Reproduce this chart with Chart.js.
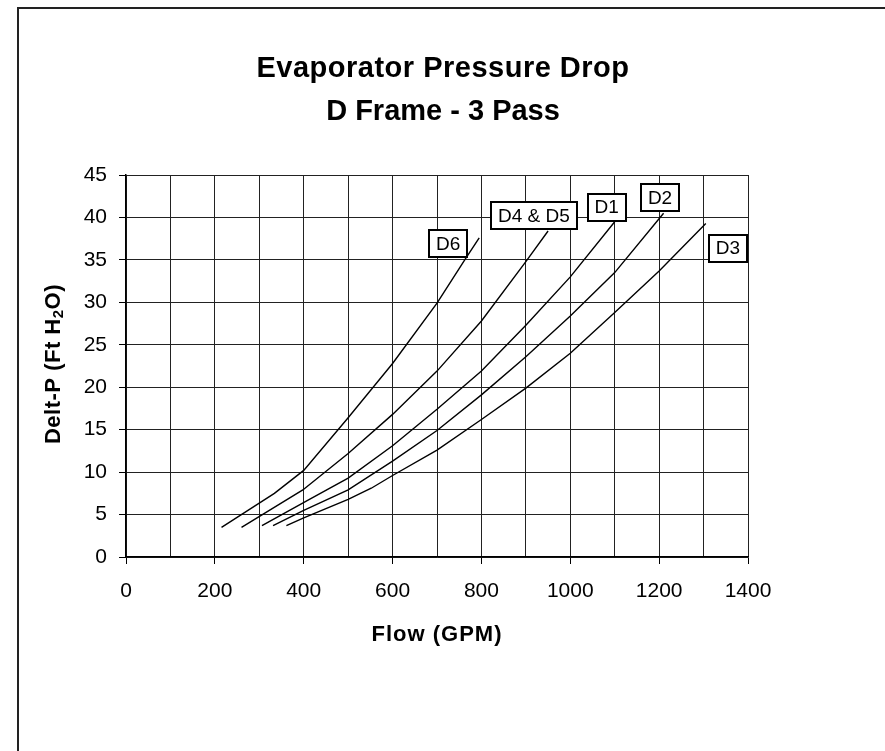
<!DOCTYPE html>
<html>
<head>
<meta charset="utf-8">
<script src="https://cdn.jsdelivr.net/npm/chart.js@4.4.1/dist/chart.umd.min.js"></script>
<style>
    html, body { margin: 0; padding: 0; background: #fff; overflow: hidden; }
    #wrap { position: relative; width: 885px; height: 751px; }
    #frame {
        position: absolute; left: 17px; top: 7px; width: 1000px; height: 1000px;
        border-left: 2px solid #222; border-top: 2px solid #222;
    }
</style>
</head>
<body>
<div id="wrap">
    <div id="frame"></div>
    <canvas id="dpChart"></canvas>
</div>
<script>
// =====================================
// Data
// =====================================

const flowD6 = [215, 334, 400, 500, 600, 700, 765, 795];
const dpD6 = [3.5, 7.5, 10.2, 16.4, 22.8, 29.9, 35.2, 37.6];

const flowD45 = [260, 398, 500, 600, 700, 800, 900, 950];
const dpD45 = [3.5, 7.9, 12.2, 16.8, 21.9, 27.8, 34.8, 38.4];

const flowD1 = [306, 420, 500, 600, 700, 800, 900, 1000, 1100];
const dpD1 = [3.7, 7.0, 9.3, 13.1, 17.4, 21.9, 27.3, 33, 39.5];

const flowD2 = [331, 400, 500, 600, 700, 800, 900, 1000, 1100, 1210];
const dpD2 = [3.7, 5.5, 7.9, 11.3, 14.9, 19.1, 23.6, 28.4, 33.5, 40.5];

const flowD3 = [361, 400, 500, 552, 600, 700, 800, 900, 1000, 1100, 1200, 1305];
const dpD3 = [3.7, 4.6, 6.8, 8.1, 9.6, 12.6, 16.2, 19.9, 24, 28.8, 33.7, 39.3];

// curve tags (box centres in data units)
const tagNames = ["D6", "D4 & D5", "D1", "D2", "D3"];
const tagFlow = [725, 918, 1082, 1202, 1355];
const tagDp = [36.9, 40.2, 41.2, 42.3, 36.4];

const xTickValues = [0, 200, 400, 600, 800, 1000, 1200, 1400];

function toPoints(xs, ys) {
    return xs.map((x, i) => ({ x: x, y: ys[i] }));
}

function curve(label, xs, ys) {
    return {
        label: label,
        data: toPoints(xs, ys),
        borderColor: "#000",
        borderWidth: 1.4,
        pointRadius: 0,
        fill: false,
        tension: 0
    };
}

const FONT = "'Liberation Sans', Arial, sans-serif";

// =====================================
// Titles and tag boxes
// =====================================

const decorations = {
    id: "decorations",
    afterDraw(chart) {
        const ctx = chart.ctx;
        const xs = chart.scales.x;
        const ys = chart.scales.y;

        ctx.save();
        ctx.fillStyle = "#000";
        ctx.textAlign = "center";
        ctx.textBaseline = "middle";

        // main title
        ctx.font = "bold 29px " + FONT;
        ctx.letterSpacing = "0.5px";
        ctx.fillText("Evaporator Pressure Drop", 443, 69);
        ctx.letterSpacing = "0px";
        ctx.fillText("D Frame - 3 Pass", 443, 112);

        // x axis title
        ctx.font = "bold 22px " + FONT;
        ctx.letterSpacing = "1px";
        ctx.fillText("Flow (GPM)", 437, 635);

        // y axis title with subscript
        ctx.translate(54, 364);
        ctx.rotate(-Math.PI / 2);
        const big = "bold 22px " + FONT;
        const small = "bold 15px " + FONT;
        ctx.letterSpacing = "0.5px";
        ctx.textAlign = "left";
        ctx.font = big;
        const w1 = ctx.measureText("Delt-P (Ft H").width;
        const w3 = ctx.measureText("O)").width;
        ctx.font = small;
        const w2 = ctx.measureText("2").width;
        let pos = -(w1 + w2 + w3) / 2;
        ctx.font = big;
        ctx.fillText("Delt-P (Ft H", pos, 0);
        pos += w1;
        ctx.font = small;
        ctx.fillText("2", pos, 5);
        pos += w2;
        ctx.font = big;
        ctx.fillText("O)", pos, 0);
        ctx.restore();

        // tag boxes
        ctx.save();
        ctx.font = "19px " + FONT;
        ctx.textAlign = "center";
        ctx.textBaseline = "middle";
        tagNames.forEach((name, i) => {
            const cx = xs.getPixelForValue(tagFlow[i]);
            const cy = ys.getPixelForValue(tagDp[i]);
            const w = ctx.measureText(name).width + 14;
            const h = 27;
            ctx.fillStyle = "#fff";
            ctx.fillRect(cx - w / 2, cy - h / 2, w, h);
            ctx.strokeStyle = "#000";
            ctx.lineWidth = 2;
            ctx.strokeRect(Math.round(cx - w / 2), Math.round(cy - h / 2), Math.round(w), h);
            ctx.fillStyle = "#000";
            ctx.fillText(name, cx, cy + 1);
        });
        ctx.restore();
    }
};

// =====================================
// Chart
// =====================================

const dpChart = new Chart(document.getElementById("dpChart"), {
    type: "line",
    data: {
        datasets: [
            curve("D6", flowD6, dpD6),
            curve("D4 & D5", flowD45, dpD45),
            curve("D1", flowD1, dpD1),
            curve("D2", flowD2, dpD2),
            curve("D3", flowD3, dpD3)
        ]
    },
    options: {
        responsive: true,
        maintainAspectRatio: false,
        animation: false,
        layout: {
            padding: { top: 175, right: 137, left: 0, bottom: 0 }
        },
        plugins: {
            legend: { display: false },
            tooltip: { enabled: false }
        },
        scales: {
            x: {
                type: "linear",
                min: 0,
                max: 1400,
                afterFit: (s) => { s.height = 194; },
                ticks: {
                    stepSize: 100,
                    autoSkip: false,
                    maxRotation: 0,
                    padding: 15,
                    color: "#000",
                    font: { family: FONT, size: 21 },
                    callback: (v) => xTickValues.includes(v) ? v : ""
                },
                grid: {
                    color: "#222",
                    lineWidth: 1,
                    tickLength: 7,
                    tickColor: (c) => (c.tick && c.tick.value % 200 === 0) ? "#000" : "rgba(0,0,0,0)"
                },
                border: { color: "#000", width: 1.5 }
            },
            y: {
                min: 0,
                max: 45,
                afterFit: (s) => { s.width = 126; },
                ticks: {
                    stepSize: 5,
                    padding: 12,
                    color: "#000",
                    font: { family: FONT, size: 21 }
                },
                grid: {
                    color: "#222",
                    lineWidth: 1,
                    tickLength: 7,
                    tickColor: "#000"
                },
                border: { color: "#000", width: 1.5 }
            }
        }
    },
    plugins: [decorations]
});
</script>
</body>
</html>
